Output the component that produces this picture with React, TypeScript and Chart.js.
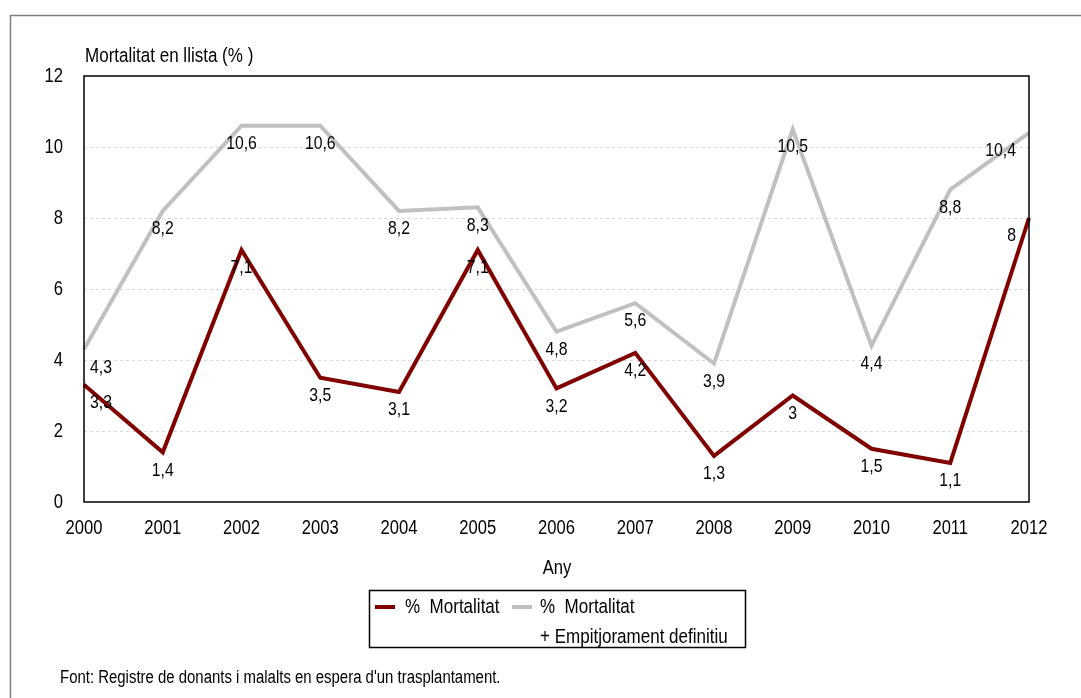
import React, { useEffect, useRef } from "react";
import { Chart, registerables } from "chart.js";

Chart.register(...registerables);

const years = ["2000", "2001", "2002", "2003", "2004", "2005", "2006", "2007", "2008", "2009", "2010", "2011", "2012"];
const mortalitat = [3.3, 1.4, 7.1, 3.5, 3.1, 7.1, 3.2, 4.2, 1.3, 3, 1.5, 1.1, 8];
const mortalitatEmpit = [4.3, 8.2, 10.6, 10.6, 8.2, 8.3, 4.8, 5.6, 3.9, 10.5, 4.4, 8.8, 10.4];
const seriesLabels = ["%  Mortalitat", "%  Mortalitat"];
const seriesLabel2Extra = "+ Empitjorament definitiu";
const yTicks = [0, 2, 4, 6, 8, 10, 12];
const yTitle = "Mortalitat en llista (% )";
const xTitle = "Any";
const sourceText = "Font: Registre de donants i malalts en espera d'un trasplantament.";

const RED = "#800000";
const GRAY = "#c0c0c0";
const FONT = "'Liberation Sans', Arial, sans-serif";
const SX = 0.83;

const fmt = (v: number) => String(v).replace(".", ",");

function txt(ctx: CanvasRenderingContext2D, s: string, x: number, y: number, size: number, align: CanvasTextAlign) {
  ctx.save();
  ctx.translate(x, y);
  ctx.scale(SX, 1);
  ctx.font = `${size}px ${FONT}`;
  ctx.textAlign = align;
  ctx.textBaseline = "middle";
  ctx.fillStyle = "#000";
  ctx.fillText(s, 0, 0);
  ctx.restore();
}

const drawPlugin = {
  id: "customDraw",
  afterDraw(chart: any) {
    const ctx = chart.ctx as CanvasRenderingContext2D;
    const ca = chart.chartArea;
    const xs = chart.scales.x;
    const ys = chart.scales.y;
    ctx.save();
    // outer frame
    ctx.strokeStyle = "#808080";
    ctx.lineWidth = 1.5;
    ctx.strokeRect(10.5, 15.5, 1100, 700);
    // plot frame
    ctx.strokeStyle = "#000";
    ctx.lineWidth = 1.5;
    ctx.strokeRect(ca.left, ca.top, ca.right - ca.left, ca.bottom - ca.top);

    // tick labels
    xs.ticks.forEach((t: any, i: number) => {
      txt(ctx, String(xs.getLabelForValue(t.value)), xs.getPixelForTick(i), ca.bottom + 26, 20, "center");
    });
    ys.ticks.forEach((t: any) => {
      txt(ctx, String(t.value), ca.left - 21, ys.getPixelForValue(t.value), 20, "right");
    });

    // data labels
    chart.data.datasets.forEach((ds: any, di: number) => {
      const meta = chart.getDatasetMeta(di);
      const n = meta.data.length;
      meta.data.forEach((pt: any, i: number) => {
        let x = pt.x;
        const y = pt.y + 18;
        let align: CanvasTextAlign = "center";
        if (i === 0) {
          x += 17;
        } else if (i === n - 1) {
          align = "right";
          x -= 13;
        }
        txt(ctx, fmt(ds.data[i]), x, y, 19, align);
      });
    });

    // titles
    txt(ctx, yTitle, ca.left + 1, 56, 20.5, "left");
    txt(ctx, xTitle, 557, 568, 20, "center");

    // legend
    const lx = 369.5, ly = 590.5, lw = 376, lh = 57;
    ctx.strokeStyle = "#000";
    ctx.lineWidth = 1.5;
    ctx.strokeRect(lx, ly, lw, lh);
    ctx.lineWidth = 4;
    ctx.strokeStyle = RED;
    ctx.beginPath();
    ctx.moveTo(375, 607);
    ctx.lineTo(395, 607);
    ctx.stroke();
    ctx.strokeStyle = GRAY;
    ctx.beginPath();
    ctx.moveTo(512, 607);
    ctx.lineTo(532, 607);
    ctx.stroke();
    txt(ctx, seriesLabels[0], 405, 607, 20.5, "left");
    txt(ctx, seriesLabels[1], 540, 607, 20.5, "left");
    txt(ctx, seriesLabel2Extra, 540, 637, 20.5, "left");

    // source
    txt(ctx, sourceText, 60, 678, 18, "left");
    ctx.restore();
  },
};

export default function App() {
  const ref = useRef<HTMLCanvasElement>(null);
  useEffect(() => {
    if (!ref.current) return;
    const chart = new Chart(ref.current, {
      type: "line",
      data: {
        labels: years,
        datasets: [
          {
            label: seriesLabels[0],
            data: mortalitat,
            borderColor: RED,
            backgroundColor: RED,
            borderWidth: 4,
            pointRadius: 0,
            tension: 0,
            order: 1,
          },
          {
            label: seriesLabels[1] + " " + seriesLabel2Extra,
            data: mortalitatEmpit,
            borderColor: GRAY,
            backgroundColor: GRAY,
            borderWidth: 4,
            pointRadius: 0,
            tension: 0,
            order: 2,
          },
        ],
      },
      options: {
        responsive: false,
        animation: false,
        layout: { padding: { left: 10, right: 52, top: 76, bottom: 156 } },
        plugins: { legend: { display: false }, tooltip: { enabled: false } },
        scales: {
          x: {
            type: "category",
            offset: false,
            grid: { display: false, drawTicks: false },
            border: { display: false },
            ticks: { display: false, autoSkip: false, maxRotation: 0 },
            afterFit: (s: any) => {
              s.height = 40;
            },
          },
          y: {
            min: 0,
            max: 12,
            afterBuildTicks: (s: any) => {
              s.ticks = yTicks.map((v) => ({ value: v }));
            },
            grid: {
              drawTicks: false,
              color: (c: any) => (c.tick && (c.tick.value === 0 || c.tick.value === 12) ? "rgba(0,0,0,0)" : "#d9d9d9"),
              lineWidth: 1,
            },
            border: { display: false, dash: [3, 3] },
            ticks: { display: false },
            afterFit: (s: any) => {
              s.width = 74;
            },
          },
        },
      },
      plugins: [drawPlugin],
    });
    return () => chart.destroy();
  }, []);
  return (
    <div style={{ position: "absolute", left: 0, top: 0, width: 1081, height: 698, background: "#fff" }}>
      <canvas ref={ref} width={1081} height={698} style={{ display: "block" }} />
    </div>
  );
}
